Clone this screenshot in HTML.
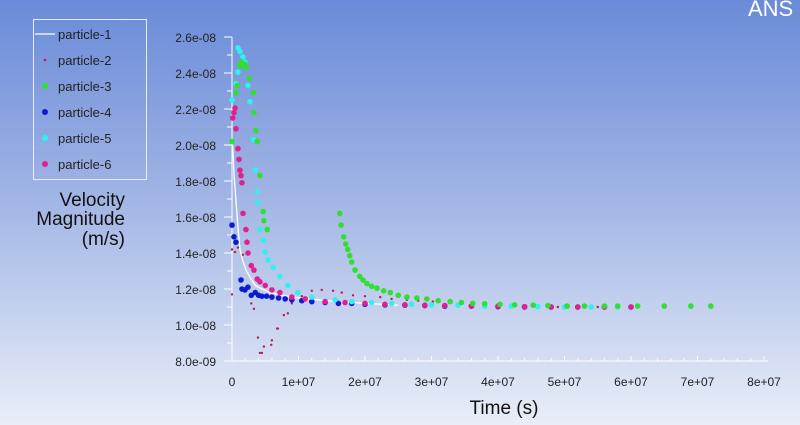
<!DOCTYPE html>
<html><head><meta charset="utf-8"><style>
html,body{margin:0;padding:0;width:800px;height:425px;overflow:hidden;background:linear-gradient(#6a8bd9 0%,#9fb3e4 45%,#e9eef8 100%)}
body{font-family:"Liberation Sans",sans-serif}
svg{display:block}
</style></head><body>
<svg id="chart" width="800" height="425" xmlns="http://www.w3.org/2000/svg" font-family="Liberation Sans, sans-serif">
<text x="748" y="16" font-size="22" fill="#ffffff">ANS</text>
<g id="axes"></g><g id="marks"></g>
<g>
<rect x="33.5" y="19.5" width="113" height="160" fill="none" stroke="#e8eefa" stroke-width="1"/>
<g id="legend-items"></g></g>
<g font-size="19" fill="#111" text-anchor="end">
<text x="125" y="206">Velocity</text><text x="125" y="225">Magnitude</text><text x="125" y="245">(m/s)</text></g>
<text x="504" y="414" font-size="19" fill="#111" text-anchor="middle">Time (s)</text>
</svg>
<script>
// time in 1e6 s, velocity in 1e-9 m/s
const xTicks=[0,10,20,30,40,50,60,70,80];
const xTickLabels=["0","1e+07","2e+07","3e+07","4e+07","5e+07","6e+07","7e+07","8e+07"];
const yTicks=[8,10,12,14,16,18,20,22,24,26];
const yTickLabels=["8.0e-09","1.0e-08","1.2e-08","1.4e-08","1.6e-08","1.8e-08","2.0e-08","2.2e-08","2.4e-08","2.6e-08"];
const p1T=[0.1,0.3,0.6,0.9,1.2,1.6,2.1,2.8,3.5,4.5,5.7,7.5,10,13,16,20,25];
const p1V=[20,18.4,16.9,15.4,14.2,13.6,13.05,12.6,12.2,12.0,11.8,11.65,11.5,11.4,11.3,11.2,11.1];
const p2T=[0,0,0.45,0.9,1.65,2.9,3.3,3.9,4.2,4.5,4.8,5.9,6,6.8,6.9,7.8,8.4,9,10.5,12,13.5,15.2,16.5,18.2,20,22.3,24,26.3,28,30.2,33,36,40,44,49,55,60];
const p2V=[14.2,11.7,14.05,14.3,13.9,11.2,10.9,9.3,8.45,8.45,8.8,8.9,9.15,9.8,9.8,10.55,10.65,11.2,11.6,11.9,11.95,11.9,11.8,11.65,11.6,11.55,11.45,11.4,11.35,11.3,11.25,11.2,11.15,11.1,11.0,11.0,11.0];
const p3T=[0,0.6,0.8,1.2,1.4,1.65,1.9,2.1,2.6,3.2,3.3,3.6,3.8,4.2,4.7,4.8,5.3,16.2,16.4,16.8,17.1,17.4,17.7,18,18.5,19.2,19.7,20.3,21,21.8,22.8,23.8,25,26.3,27.8,29.3,31,32.8,34.5,36.2,38,40.3,42.5,45.3,47.5,50.4,53,56,58,61,65,69,72];
const p3V=[20.2,22.9,23.3,24.4,24.6,24.5,24.5,24.3,23.7,22.9,21.8,20.8,20.2,18.3,16.3,15.8,15.3,16.2,15.55,14.9,14.5,14.2,13.85,13.5,13.05,12.7,12.5,12.3,12.15,12.05,11.9,11.8,11.65,11.55,11.5,11.45,11.35,11.3,11.25,11.2,11.18,11.15,11.12,11.1,11.08,11.05,11.05,11.05,11.05,11.05,11.05,11.05,11.05];
const p4T=[0,0.3,0.6,1.35,1.5,1.95,2.4,2.9,3.5,4,4.5,5.2,6,7,8,9,10.5,12,14,16,18,20,23,26,29,32,36,40,44,48,52,56,60];
const p4V=[15.55,14.9,14.6,12.5,12.0,11.95,12.1,11.65,11.8,11.65,11.6,11.6,11.55,11.5,11.45,11.4,11.35,11.3,11.25,11.2,11.2,11.15,11.12,11.1,11.08,11.05,11.05,11.02,11.0,11.0,11.0,11.0,11.0];
const p5T=[0,0.6,0.9,0.9,1.2,1.65,1.95,2.4,2.7,3.2,3.5,3.8,3.9,4.2,4.7,5,5.4,6.2,7.2,8.4,9.9,12,15.5,18,21,24,27,30,34,38,42,46,50,54,58,60];
const p5V=[22.5,23.4,24.05,25.4,25.2,24.9,24.6,23.3,22.4,20.3,18.6,17.4,16.8,15.3,14.7,14.05,13.6,13.2,12.7,12.2,11.8,11.55,11.4,11.3,11.25,11.2,11.15,11.12,11.1,11.05,11.05,11.02,11.0,11.0,11.0,11.0];
const p6T=[0.1,0.3,0.45,0.6,0.9,1.05,1.2,1.35,1.5,1.65,2.1,2.25,2.4,2.9,3.3,3.8,4.2,5,6,7.2,9,11,14,17,20,23,26,29,32,36,40,44,48,52,56,60];
const p6V=[21.5,21.8,22.05,20.9,19.8,19.2,18.6,18.3,17.9,16.2,15.3,14.6,14.0,13.3,13.05,12.55,12.4,12.2,11.95,11.8,11.55,11.45,11.3,11.25,11.2,11.15,11.12,11.1,11.08,11.05,11.05,11.02,11.0,11.0,11.0,11.0];
const X=t=>232+t*6.65, Y=v=>361-(v-8)*18;
const NS="http://www.w3.org/2000/svg";
function mk(tag,a,p){const e=document.createElementNS(NS,tag);for(const k in a)e.setAttribute(k,a[k]);p.appendChild(e);return e;}
const ax=document.getElementById('axes'),mg=document.getElementById('marks'),lg=document.getElementById('legend-items');
let yl=mk('line',{x1:232,y1:Y(26),x2:232,y2:Y(8),stroke:'#fff'},ax);


let xl=mk('line',{x1:232,y1:361,x2:768,y2:361,stroke:'#fff'},ax);


for(let v=8;v<=26;v++){mk('line',{x1:v%2?227:224,y1:Y(v),x2:232,y2:Y(v),stroke:'#fff'},ax);}
for(let t=0;t<=80;t+=2){mk('line',{x1:X(t),y1:361,x2:X(t),y2:t%10?358:356,stroke:'#fff'},ax);}
yTicks.forEach((v,i)=>{const e=mk('text',{x:216,y:Y(v)+5,'font-size':12,fill:'#222','text-anchor':'end'},ax);e.textContent=yTickLabels[i];

});
xTicks.forEach((t,i)=>{const e=mk('text',{x:X(t),y:386,'font-size':12,fill:'#222','text-anchor':'middle'},ax);e.textContent=xTickLabels[i];

});
const pl=mk('polyline',{points:p1T.map((t,i)=>X(t)+','+Y(p1V[i])).join(' '),fill:'none',stroke:'#fff','stroke-width':1.3},mg);


const series=[[p2T,p2V,'#b0204a',1.2,'particle-2'],[p4T,p4V,'#0a1bd0',2.8,'particle-4'],[p5T,p5V,'#30f0f0',2.8,'particle-5'],[p6T,p6V,'#e0208f',2.8,'particle-6'],[p3T,p3V,'#30e030',2.8,'particle-3']];
series.forEach(s=>{s[0].forEach((t,i)=>{const c=mk('circle',{cx:X(t),cy:Y(s[1][i]),r:s[3],fill:s[2]},mg);

});});
const leg=[['particle-1','#fff',0],['particle-2','#b0204a',1.3],['particle-3','#30e030',3],['particle-4','#0a1bd0',3],['particle-5','#30f0f0',3],['particle-6','#e0208f',3]];
leg.forEach((l,i)=>{const y=34+i*26;
const g=mk('g',{},lg);


if(l[2]===0){mk('line',{x1:35,y1:y,x2:55,y2:y,stroke:'#fff','stroke-width':1.3},g);}else{mk('circle',{cx:45,cy:y,r:l[2],fill:l[1]},g);}
const t=mk('text',{x:58,y:y+5,'font-size':13,fill:'#222'},g);t.textContent=l[0];});
</script>
</body></html>
